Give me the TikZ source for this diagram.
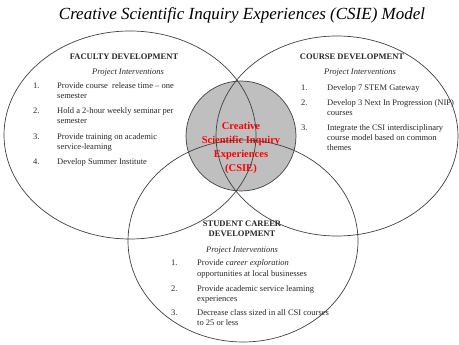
\documentclass[tikz,border=0pt]{standalone}
\usepackage{fontspec}
\setmainfont{Liberation Serif}
\newcommand\mlines[1]{\begin{tabular}[t]{@{}l@{}}#1\end{tabular}}
\newcommand\mclines[1]{\begin{tabular}[t]{@{}c@{}}#1\end{tabular}}
\begin{document}
\begin{tikzpicture}[x=1pt,y=-1pt,
  body/.style={font=\fontsize{8.5}{10}\selectfont, inner sep=0pt, anchor=base west, text=black!85},
  num/.style={font=\fontsize{8.5}{10}\selectfont, inner sep=0pt, anchor=base west, text=black!85},
  head/.style={font=\fontsize{8.5}{10}\selectfont\bfseries, inner sep=0pt, anchor=base, text=black!85},
  sub/.style={font=\fontsize{8.5}{10}\selectfont\itshape, inner sep=0pt, anchor=base, text=black!85},
  venn/.style={draw=black!75, line width=0.7pt}]
\useasboundingbox (0,0) rectangle (459,345);
\node[font=\fontsize{17}{18}\selectfont\itshape, inner sep=0pt, anchor=base] (title) at (242,20) {Creative Scientific Inquiry Experiences (CSIE) Model};
\fill[black!25] (241,136) circle [radius=55pt];
\node[font=\fontsize{10.5}{14}\selectfont\bfseries, text=red, inner sep=0pt, anchor=base] (csie) at (241,130) {\mclines{Creative\\Scientific Inquiry\\Experiences\\(CSIE)}};
\draw[venn] (130,135) ellipse [x radius=126pt, y radius=104pt];
\draw[venn] (337,136) ellipse [x radius=121pt, y radius=100pt];
\draw[venn] (243,241) ellipse [x radius=115pt, y radius=101pt];
\draw[venn] (241,136) circle [radius=55pt];
% Faculty
\node[head] (fh) at (124,60) {FACULTY DEVELOPMENT};
\node[sub] (fs) at (128,75) {Project Interventions};
\node[num] (fn1) at (33,89) {1.};
\node[num] (fn2) at (33,114) {2.};
\node[num] (fn3) at (33,140) {3.};
\node[num] (fn4) at (33,165) {4.};
\node[body] (ft1) at (57,89) {\mlines{Provide course\ \ release time -- one\\semester}};
\node[body] (ft2) at (57,114) {\mlines{Hold a 2-hour weekly seminar per\\semester}};
\node[body] (ft3) at (57,140) {\mlines{Provide training on academic\\service-learning}};
\node[body] (ft4) at (57,165) {Develop Summer Institute};
% Course
\node[head] (ch) at (352,60) {COURSE DEVELOPMENT};
\node[sub] (cs) at (360,75) {Project Interventions};
\node[num] (cn1) at (301,91) {1.};
\node[num] (cn2) at (301,106) {2.};
\node[num] (cn3) at (301,131) {3.};
\node[body] (ct1) at (327,91) {Develop 7 STEM Gateway};
\node[body] (ct2) at (327,106) {\mlines{Develop 3 Next In Progression (NIP)\\courses}};
\node[body] (ct3) at (327,131) {\mlines{Integrate the CSI interdisciplinary\\course model based on common\\themes}};
% Student
\node[head] (sh) at (242,227) {\mclines{STUDENT CAREER\\DEVELOPMENT}};
\node[sub] (ss) at (242,253) {Project Interventions};
\node[num] (sn1) at (171,266) {1.};
\node[num] (sn2) at (171,291) {2.};
\node[num] (sn3) at (171,316) {3.};
\node[body] (st1) at (197,266) {\mlines{Provide \textit{career exploration}\\opportunities at local businesses}};
\node[body] (st2) at (197,291) {\mlines{Provide academic service learning\\experiences}};
\node[body] (st3) at (197,316) {\mlines{Decrease class sized in all CSI courses\\to 25 or less}};
\end{tikzpicture}
\end{document}
